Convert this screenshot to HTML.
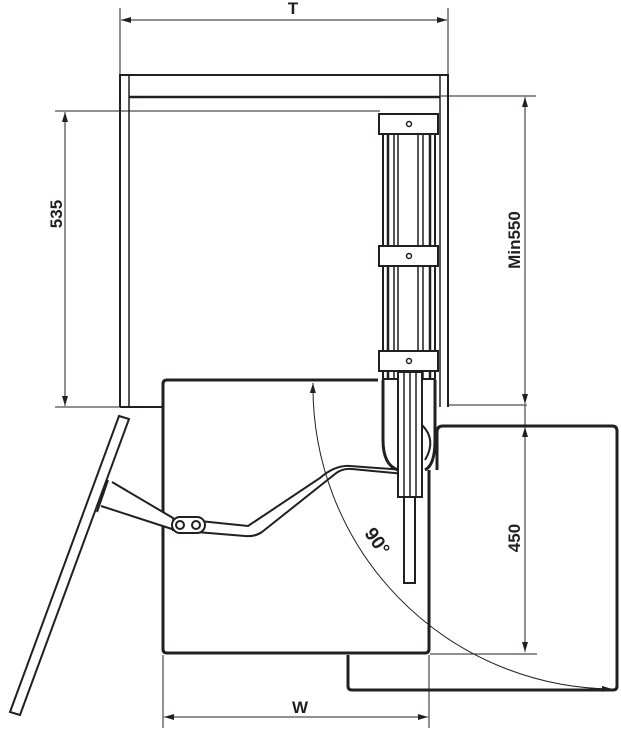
<!DOCTYPE html>
<html><head><meta charset="utf-8"><style>
html,body{margin:0;padding:0;background:#fff;}
svg{display:block;}
text{font-family:"Liberation Sans",sans-serif;font-weight:bold;fill:#231f20;}
</style></head><body>
<svg width="621" height="730" viewBox="0 0 621 730" xmlns="http://www.w3.org/2000/svg">
<defs>
<marker id="a" viewBox="0 0 10 6" refX="10" refY="3" markerWidth="16" markerHeight="6" markerUnits="userSpaceOnUse" orient="auto-start-reverse"><path d="M0,0 L10,3 L0,6 z" fill="#231f20"/></marker>
</defs>
<g stroke="#231f20" fill="none">
<line x1="120" y1="8" x2="120" y2="75" stroke-width="1"/>
<line x1="448" y1="8" x2="448" y2="75" stroke-width="1"/>
<line x1="121" y1="20" x2="447" y2="20" stroke-width="1" marker-start="url(#a)" marker-end="url(#a)"/>
<path d="M120,407 V75 H448 V407" stroke-width="2"/>
<line x1="129" y1="97" x2="129" y2="407" stroke-width="1.5"/>
<line x1="440" y1="97" x2="440" y2="407" stroke-width="1.5"/>
<line x1="129" y1="97" x2="440" y2="97" stroke-width="2.5"/>
<line x1="129" y1="75" x2="129" y2="97" stroke-width="1.5"/>
<line x1="440" y1="75" x2="440" y2="97" stroke-width="1.5"/>
<line x1="55" y1="111" x2="380" y2="111" stroke-width="1"/>
<line x1="55" y1="407" x2="163" y2="407" stroke-width="1"/>
<line x1="120" y1="407" x2="163" y2="407" stroke-width="2"/>
<line x1="65" y1="112" x2="65" y2="406" stroke-width="1" marker-start="url(#a)" marker-end="url(#a)"/>
<line x1="441" y1="96" x2="536" y2="96" stroke-width="1"/>
<line x1="448" y1="405" x2="527" y2="405" stroke-width="1"/>
<line x1="525" y1="97" x2="525" y2="404" stroke-width="1" marker-start="url(#a)" marker-end="url(#a)"/>
<line x1="525" y1="405" x2="525" y2="426" stroke-width="1"/>
<line x1="525" y1="427" x2="525" y2="652" stroke-width="1" marker-start="url(#a)" marker-end="url(#a)"/>
<line x1="430" y1="654" x2="537" y2="654" stroke-width="1"/>
<path d="M378,380 H167 Q163,380 163,384 V649 Q163,653 167,653 H425 Q429,653 429,649 V470" stroke-width="3"/>
<path d="M437,470 V432 Q437,426 443,426 H612 Q617,426 617,431 V686 Q617,690 613,690 H352 Q348,690 348,686 V655" stroke-width="3"/>
<line x1="163" y1="655" x2="163" y2="728" stroke-width="1"/>
<line x1="429" y1="655" x2="429" y2="728" stroke-width="1"/>
<line x1="164" y1="717" x2="428" y2="717" stroke-width="1" marker-start="url(#a)" marker-end="url(#a)"/>
<path d="M313,383 A302,302 0 0 0 612,689" stroke-width="1" marker-start="url(#a)" marker-end="url(#a)"/>
<polygon points="119,416 129,419 20,715 10,712" stroke-width="2" fill="#fff"/>
<path d="M108,480 L97,512 M112,482 L173,518 L175,530 L101,506" stroke-width="2" fill="#fff"/>
<path d="M172,530 L245,536 Q255,537 262,532 L335,474 Q342,468 352,469 L405,474 M172,522 L190,520 L248,526 L320,478 Q335,465 350,466 L405,470" stroke-width="2"/>
<rect x="172" y="517" width="33" height="16" rx="8" stroke-width="2" fill="#fff"/>
<circle cx="180" cy="525" r="4" stroke-width="2"/>
<circle cx="196" cy="525" r="4" stroke-width="2"/>
<rect x="383" y="117" width="52" height="262" stroke-width="2" fill="#fff"/>
<rect x="398" y="130" width="20" height="245" stroke-width="1.5"/>
<line x1="388" y1="117" x2="388" y2="379" stroke-width="2.5"/>
<line x1="430" y1="117" x2="430" y2="379" stroke-width="2.5"/>
<line x1="423" y1="117" x2="423" y2="379" stroke-width="1.5"/>
<line x1="394" y1="117" x2="394" y2="379" stroke-width="1.5"/>
<rect x="379" y="114" width="59" height="20" stroke-width="2" fill="#fff"/>
<rect x="379" y="246" width="59" height="20" stroke-width="2" fill="#fff"/>
<rect x="379" y="351" width="59" height="20" stroke-width="2" fill="#fff"/>
<circle cx="409" cy="124" r="2.5" stroke-width="1.5"/>
<circle cx="409" cy="256" r="2.5" stroke-width="1.5"/>
<circle cx="409" cy="361" r="2.5" stroke-width="1.5"/>
<path d="M383,380 V440 Q383,465 398,470 M435,380 V440 Q435,465 425,470" stroke-width="3"/>
<path d="M422,425 Q437,440 425,460" stroke-width="2"/>
<rect x="398" y="372" width="24" height="125" stroke-width="2" fill="#fff"/>
<line x1="404" y1="372" x2="404" y2="497" stroke-width="1.5"/>
<line x1="410" y1="372" x2="410" y2="497" stroke-width="1.5"/>
<line x1="416" y1="372" x2="416" y2="497" stroke-width="1.5"/>
<rect x="404" y="497" width="11" height="86" stroke-width="2" fill="#fff"/>
</g>
<text x="293" y="14" font-size="17" text-anchor="middle">T</text>
<text x="300" y="713" font-size="17" text-anchor="middle">W</text>
<text transform="translate(62,214) rotate(-90)" font-size="17" text-anchor="middle">535</text>
<text transform="translate(520,240) rotate(-90)" font-size="17" text-anchor="middle">Min550</text>
<text transform="translate(520,538) rotate(-90)" font-size="17" text-anchor="middle">450</text>
<text transform="translate(372,545) rotate(55)" font-size="19" font-weight="normal" text-anchor="middle">90°</text>
</svg>
</body></html>
